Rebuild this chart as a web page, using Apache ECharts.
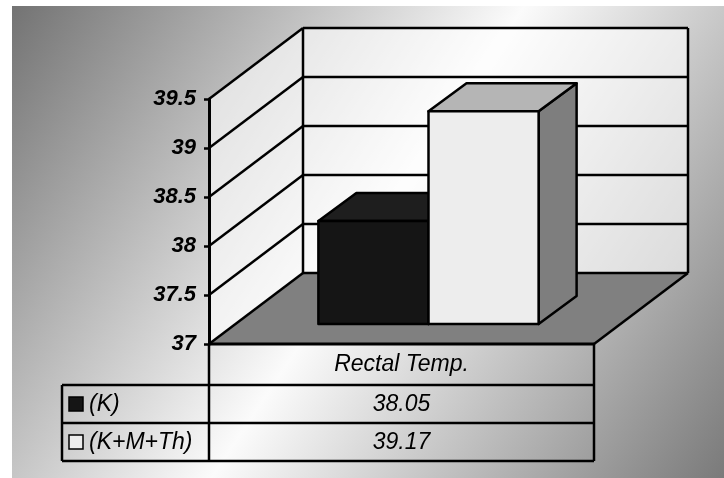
<!DOCTYPE html>
<html><head><meta charset="utf-8">
<script src="https://cdn.jsdelivr.net/npm/echarts@6/dist/echarts.min.js"></script>
<style>html,body{margin:0;padding:0;background:#fff}#c{width:724px;height:478px}</style>
</head><body><div id="c"></div>
<script>
// ---- data ----
const categories = ['Rectal Temp.'];
const seriesNames = ['(K)', '(K+M+Th)'];
const kValues = [38.05];
const kmthValues = [39.17];
const yTicks = [37, 37.5, 38, 38.5, 39, 39.5];

const FONT = 'Liberation Sans, Arial, sans-serif';
const yMin = yTicks[0], yMax = yTicks[yTicks.length - 1];
const yInterval = yTicks[1] - yTicks[0];

// projection constants
const WX = 94, WY = 71;    // wall depth
const FX = 27, FY = 20;    // bar front offset
const BX = 38, BY = 28;    // bar depth
const BAR_FRAC = 0.286;

const barStyles = [
  { front: '#151515', top: '#1e1e1e', side: '#0e0e0e' },
  { front: '#ededed', top: '#b5b5b5', side: '#7e7e7e' }
];

const chart = echarts.init(document.getElementById('c'), null, { renderer: 'canvas' });

function wallItem(params, api) {
  const cs = params.coordSys;
  const v = api.value(1);
  const y = api.coord([0, v])[1];
  const x0 = cs.x, x1 = cs.x + cs.width;
  const yBase = cs.y + cs.height, yTop = cs.y;
  const lineStyle = { stroke: '#000', lineWidth: 2.5 };
  const children = [];
  if (params.dataIndex === 0) {
    children.push({ type: 'polygon', shape: { points: [[x0, yTop], [x0 + WX, yTop - WY], [x0 + WX, yBase - WY], [x0, yBase]] },
      style: { fill: 'rgba(255,255,255,0.6)' } });
    children.push({ type: 'rect', shape: { x: x0 + WX, y: yTop - WY, width: cs.width, height: cs.height },
      style: { fill: 'rgba(255,255,255,0.6)' } });
    children.push({ type: 'polygon', shape: { points: [[x0, yBase], [x0 + WX, yBase - WY], [x1 + WX, yBase - WY], [x1, yBase]] },
      style: { fill: '#808080' } });
    children.push({ type: 'line', shape: { x1: x1, y1: yBase, x2: x1 + WX, y2: yBase - WY }, style: lineStyle });
  }
  children.push({ type: 'line', shape: { x1: x0, y1: y, x2: x0 + WX, y2: y - WY }, style: lineStyle });
  children.push({ type: 'line', shape: { x1: x0 + WX, y1: y - WY, x2: x1 + WX, y2: y - WY }, style: lineStyle });
  if (params.dataIndex === yTicks.length - 1) {
    children.push({ type: 'line', shape: { x1: x0 + WX, y1: yTop - WY, x2: x0 + WX, y2: yBase - WY }, style: lineStyle });
    children.push({ type: 'line', shape: { x1: x1 + WX, y1: yTop - WY, x2: x1 + WX, y2: yBase - WY }, style: lineStyle });
  }
  return { type: 'group', children: children };
}

function barRenderer(idx) {
  return function (params, api) {
    const c = api.value(0), v = api.value(1);
    const top = api.coord([c, v]);
    const base = api.coord([c, yMin]);
    const band = api.size([1, 0])[0];
    const W = band * BAR_FRAC;
    const xl = top[0] - W + idx * W + FX;
    const xr = xl + W;
    const yt = top[1] - FY;
    const yb = base[1] - FY;
    const st = barStyles[idx];
    const ls = { stroke: '#000', lineWidth: 2.5, lineJoin: 'round' };
    return { type: 'group', children: [
      { type: 'polygon', shape: { points: [[xr, yt], [xr + BX, yt - BY], [xr + BX, yb - BY], [xr, yb]] },
        style: Object.assign({ fill: st.side }, ls) },
      { type: 'polygon', shape: { points: [[xl, yt], [xr, yt], [xr + BX, yt - BY], [xl + BX, yt - BY]] },
        style: Object.assign({ fill: st.top }, ls) },
      { type: 'rect', shape: { x: xl, y: yt, width: W, height: yb - yt },
        style: Object.assign({ fill: st.front }, ls) }
    ]};
  };
}

// ---- table layout ----
const T = { left: 62, col: 209, right: 594, top: 344, r1: 385, r2: 423, r3: 461 };
const allValues = [kValues, kmthValues];
const lineS = { stroke: '#000', lineWidth: 2.5 };
const tableEls = [
  { type: 'line', shape: { x1: T.col, y1: T.top, x2: T.right, y2: T.top }, style: { stroke: '#000', lineWidth: 3 } },
  { type: 'line', shape: { x1: T.right, y1: T.top, x2: T.right, y2: T.r3 }, style: lineS },
  { type: 'line', shape: { x1: T.col, y1: T.top, x2: T.col, y2: T.r3 }, style: lineS },
  { type: 'line', shape: { x1: T.left, y1: T.r1, x2: T.right, y2: T.r1 }, style: lineS },
  { type: 'line', shape: { x1: T.left, y1: T.r2, x2: T.right, y2: T.r2 }, style: lineS },
  { type: 'line', shape: { x1: T.left, y1: T.r3, x2: T.right, y2: T.r3 }, style: lineS },
  { type: 'line', shape: { x1: T.left, y1: T.r1, x2: T.left, y2: T.r3 }, style: lineS }
];
const rowTops = [T.r1, T.r2];
const rowBots = [T.r2, T.r3];
seriesNames.forEach(function (name, i) {
  const cy = (rowTops[i] + rowBots[i]) / 2;
  tableEls.push({ type: 'rect', shape: { x: 69, y: cy - 7, width: 14, height: 14 },
    style: { fill: barStyles[i].front, stroke: '#000', lineWidth: 1.5 } });
  tableEls.push({ type: 'text', x: 89, y: cy + 1,
    style: { text: name, font: 'italic 23px ' + FONT, fill: '#000', textAlign: 'left', textVerticalAlign: 'middle' } });
  tableEls.push({ type: 'text', x: (T.col + T.right) / 2, y: cy + 1,
    style: { text: allValues[i][0].toFixed(2), font: 'italic 23px ' + FONT, fill: '#000', textAlign: 'center', textVerticalAlign: 'middle' } });
});
tableEls.forEach(function (e) { e.z = 20; });

const option = {
  animation: false,
  grid: { left: 209, top: 99, width: 385, height: 245 },
  xAxis: {
    type: 'category', data: categories,
    axisLine: { show: false }, axisTick: { show: false }, splitLine: { show: false },
    axisLabel: { fontFamily: FONT, fontSize: 23, fontStyle: 'italic', color: '#000', margin: 21, verticalAlign: 'middle' }
  },
  yAxis: {
    type: 'value', min: yMin, max: yMax, interval: yInterval, z: 10,
    axisLine: { show: true, lineStyle: { color: '#000', width: 3 } },
    axisTick: { show: true, length: 5, lineStyle: { color: '#000', width: 2.5 } },
    splitLine: { show: false },
    axisLabel: { fontFamily: FONT, fontSize: 22, fontStyle: 'italic', fontWeight: 'bold', color: '#000', margin: 13 }
  },
  graphic: [
    { type: 'rect', z: -10, shape: { x: 12, y: 6, width: 712, height: 472 },
      style: { fill: new echarts.graphic.LinearGradient(0, 0, 1, 1, [
        { offset: 0, color: '#737373' }, { offset: 0.5, color: '#fbfbfb' }, { offset: 1, color: '#7a7a7a' }
      ]) } }
  ].concat(tableEls),
  series: [
    { type: 'custom', name: 'walls', z: 1, silent: true, renderItem: wallItem,
      data: yTicks.map(function (v) { return [0, v]; }) },
    { type: 'custom', name: seriesNames[0], z: 5, renderItem: barRenderer(0),
      data: kValues.map(function (v, i) { return [i, v]; }) },
    { type: 'custom', name: seriesNames[1], z: 6, renderItem: barRenderer(1),
      data: kmthValues.map(function (v, i) { return [i, v]; }) }
  ]
};
chart.setOption(option);
</script>
</body></html>
